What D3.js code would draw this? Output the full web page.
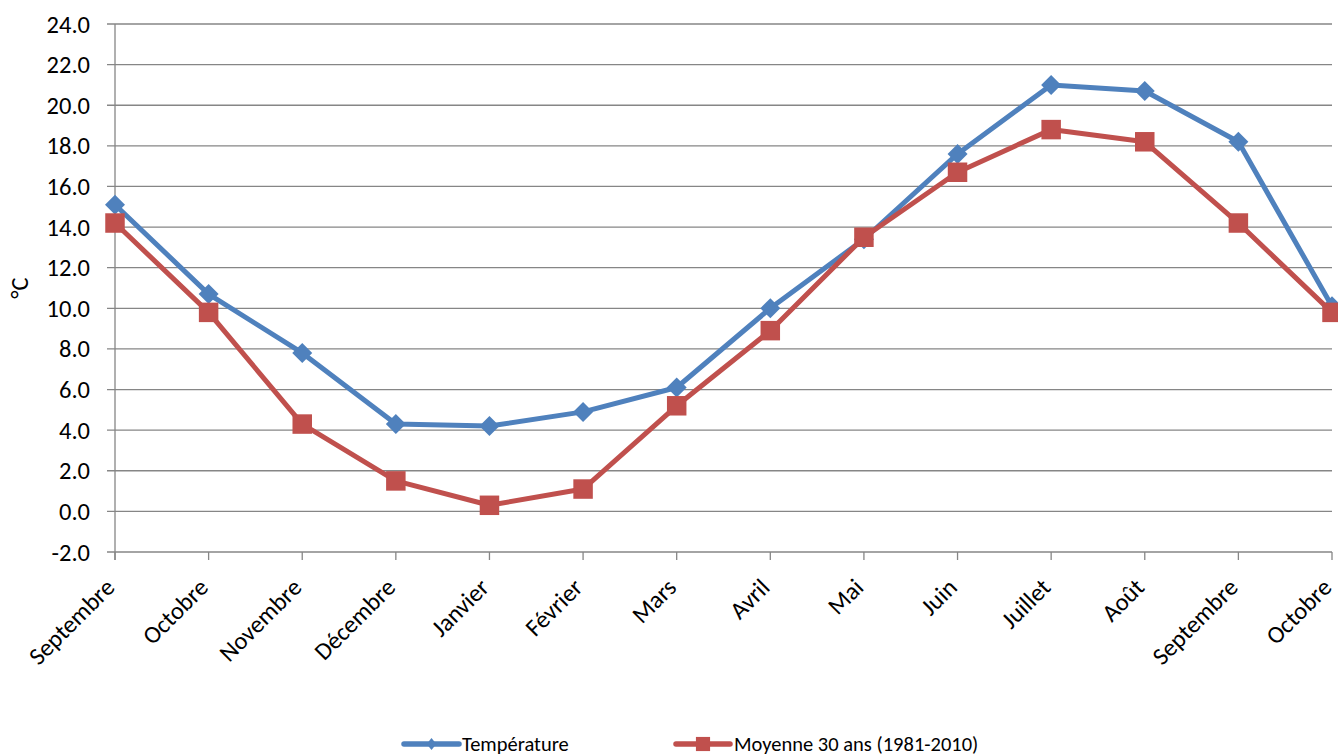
<!DOCTYPE html>
<html><head><meta charset="utf-8">
<script src="https://cdn.jsdelivr.net/npm/d3@7"></script>
<style>body{margin:0;background:#fff}svg{display:block;font-family:Carlito,"Open Sans","Noto Sans",sans-serif}</style>
</head><body><svg id="c" width="1338" height="756"></svg>
<script>
const categories = ["Septembre","Octobre","Novembre","Décembre","Janvier","Février","Mars","Avril","Mai","Juin","Juillet","Août","Septembre","Octobre"];
const temperature = [15.1,10.7,7.8,4.3,4.2,4.9,6.1,10.0,13.4,17.6,21.0,20.7,18.2,10.1];
const moyenne = [14.2,9.8,4.3,1.5,0.3,1.1,5.2,8.9,13.5,16.7,18.8,18.2,14.2,9.8];
const yTicks = [-2,0,2,4,6,8,10,12,14,16,18,20,22,24];
const seriesNames = ["Température","Moyenne 30 ans (1981-2010)"];
const colors = ["#4F81BD","#C0504D"];

const svg = d3.select("#c");
const L=115, R=1332, T=24, B=552;
const x = d3.scalePoint().domain(d3.range(categories.length)).range([L,R]);
const y = d3.scaleLinear().domain([-2,24]).range([B,T]);

svg.append("g").selectAll("line").data(yTicks).join("line")
  .attr("x1",L-8).attr("x2",R).attr("y1",d=>y(d)).attr("y2",d=>y(d))
  .attr("stroke","#868686").attr("stroke-width",1.3);
svg.append("line").attr("x1",L).attr("x2",L).attr("y1",T).attr("y2",B+8)
  .attr("stroke","#868686").attr("stroke-width",1.3);
svg.append("g").selectAll("line").data(d3.range(categories.length)).join("line")
  .attr("x1",d=>x(d)).attr("x2",d=>x(d)).attr("y1",B).attr("y2",B+8)
  .attr("stroke","#868686").attr("stroke-width",1.3);
svg.append("g").selectAll("text").data(yTicks).join("text")
  .attr("x",90).attr("y",d=>y(d)).attr("dy","0.35em").attr("text-anchor","end")
  .attr("font-size",24.5).attr("fill","#000").text(d=>d.toFixed(1));
svg.append("g").selectAll("text").data(categories).join("text")
  .attr("transform",(d,i)=>`translate(${x(i)+1},${B+37}) rotate(-45)`)
  .attr("text-anchor","end")
  .attr("font-size",24.5).attr("fill","#000").text(d=>d);
svg.append("text").attr("transform","translate(28,288) rotate(-90)")
  .attr("text-anchor","middle").attr("font-size",24.5).text("°C");

const line = d3.line().x((d,i)=>x(i)).y(d=>y(d));
const series=[temperature,moyenne];
series.forEach((s,k)=>{
  svg.append("path").datum(s).attr("d",line).attr("fill","none")
    .attr("stroke",colors[k]).attr("stroke-width",5).attr("stroke-linejoin","round");
});
const sq = d3.symbol().type(d3.symbolSquare);
series.forEach((s,k)=>{
  svg.append("g").selectAll("path").data(s).join("path")
    .attr("transform",(d,i)=>`translate(${x(i)},${y(d)})` + (k===0?" rotate(45)":""))
    .attr("d",k===0?sq.size(200)():sq.size(380)())
    .attr("fill",colors[k]);
});

const leg=[{x1:404,x2:459,tx:462},{x1:676,x2:730,tx:734}];
leg.forEach((l,k)=>{
  const g=svg.append("g");
  g.append("line").attr("x1",l.x1).attr("x2",l.x2).attr("y1",744).attr("y2",744)
    .attr("stroke",colors[k]).attr("stroke-width",5.5).attr("stroke-linecap","round");
  g.append("path").attr("transform",`translate(${(l.x1+l.x2)/2},744)`+(k===0?" scale(0.8,1) rotate(45)":""))
    .attr("d",k===0?sq.size(72)():sq.size(200)())
    .attr("fill",colors[k]);
  g.append("text").attr("x",l.tx).attr("y",744).attr("dy","0.35em")
    .attr("font-size",20.5).text(seriesNames[k]);
});
</script></body></html>
